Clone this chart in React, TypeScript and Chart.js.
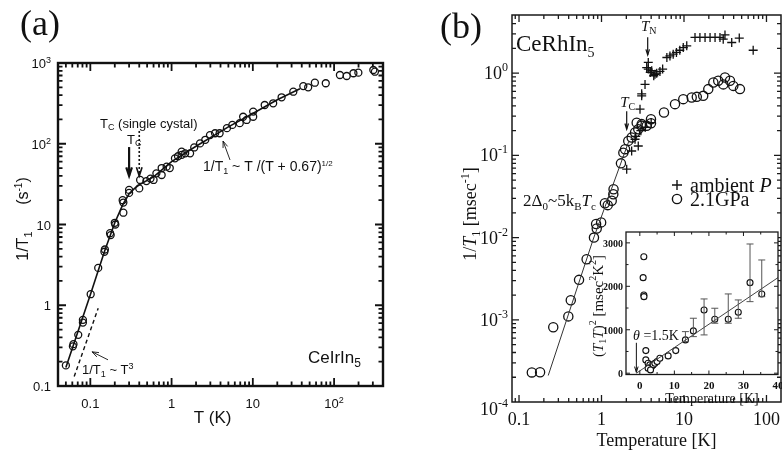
import React, { useEffect, useRef } from "react";
import { Chart, registerables } from "chart.js";

Chart.register(...registerables);

const SANS = '"Liberation Sans", Arial, sans-serif';
const SERIF = '"Liberation Serif", "Times New Roman", serif';
const INK = "#111";

// ---------- (a) CeIrIn5 : 1/T1 (s^-1) vs T (K) ----------
const irT = [0.050, 0.061, 0.062, 0.071, 0.081, 0.081, 0.101, 0.125, 0.149, 0.151, 0.175, 0.178, 0.200, 0.203, 0.255, 0.255, 0.25, 0.30, 0.30, 0.40, 0.41, 0.49, 0.55, 0.60, 0.65, 0.755, 0.755, 0.87, 0.95, 1.1, 1.2, 1.33, 1.47, 1.33, 1.69, 1.9, 2.24, 2.6, 2.97, 3.43, 3.9, 4.8, 5.6, 6.9, 7.6, 8.4, 10.1, 10.1, 14.0, 17.8, 22.6, 31.5, 41.8, 48, 58, 79, 118, 143, 173, 199, 304, 318];
const irRate = [0.18, 0.31, 0.33, 0.43, 0.61, 0.66, 1.37, 2.9, 4.6, 4.9, 7.8, 7.4, 10.5, 10.0, 14, 18.7, 20, 26.8, 24.6, 28, 35.6, 34.5, 37, 35.6, 43, 41, 50, 52, 50, 66, 70, 73, 76, 80, 76, 90, 101, 112, 128, 135, 135, 156, 171, 180, 216, 197, 216, 250, 302, 317, 376, 441, 518, 500, 570, 561, 710, 690, 747, 759, 819, 780];
const irFitT = [0.05, 0.1, 0.15, 0.2, 0.25, 0.3, 0.35, 0.4, 0.6, 1, 2, 5, 10, 20, 38];
const irFitRate = [0.17, 1.35, 4.7, 10.5, 17.5, 24, 28, 31, 39, 60, 93, 162, 237, 350, 480];
const irCubeT = [0.0633, 0.125];
const irCubeRate = [0.131, 0.92];
const irXTicks = [0.1, 1, 10, 100];
const irXLabels = ["0.1", "1", "10", "10^2"];
const irYTicks = [0.1, 1, 10, 100, 1000];
const irYLabels = ["0.1", "1", "10", "10^2", "10^3"];

// ---------- (b) CeRhIn5 : 1/T1 [msec^-1] vs Temperature [K] ----------
const rhAmbT = [2.02, 2.32, 2.55, 2.79, 2.93, 3.07, 3.07, 3.37, 3.53, 3.69, 3.69, 3.9, 4.06, 4.3, 4.45, 4.67, 5.11, 5.51, 6.2, 6.76, 7.4, 8.1, 8.9, 9.8, 10.8, 13.6, 15.6, 18, 20.7, 23.8, 27.3, 29.9, 31.4, 37.9, 46.8, 69, 2.6, 3.0, 3.4, 4.0];
const rhAmbRate = [0.068, 0.113, 0.157, 0.13, 0.365, 0.53, 0.56, 0.73, 1.17, 1.35, 1.12, 1.02, 1.07, 0.93, 0.97, 1.0, 1.05, 1.12, 1.55, 1.62, 1.70, 1.79, 1.9, 2.05, 2.15, 2.72, 2.72, 2.72, 2.72, 2.72, 2.72, 2.59, 2.92, 2.36, 2.67, 1.9, 0.17, 0.2, 0.22, 0.25];
const rhHiT = [0.143, 0.18, 0.26, 0.396, 0.424, 0.534, 0.66, 0.81, 0.86, 0.875, 0.99, 1.10, 1.19, 1.33, 1.39, 1.40, 1.72, 1.84, 1.93, 2.11, 2.32, 2.55, 2.79, 3.07, 2.67, 3.07, 3.53, 3.98, 3.98, 5.72, 7.78, 9.8, 12.4, 14.3, 17.1, 19.7, 22.7, 26, 31.4, 30, 36.1, 39.6, 47.7];
const rhHiRate = [2.29e-4, 2.3e-4, 8.1e-4, 1.1e-3, 1.73e-3, 3.06e-3, 5.46e-3, 0.0100, 0.0146, 0.0129, 0.0153, 0.0262, 0.0248, 0.028, 0.0337, 0.0388, 0.080, 0.108, 0.119, 0.15, 0.165, 0.19, 0.208, 0.229, 0.25, 0.24, 0.229, 0.275, 0.246, 0.333, 0.42, 0.483, 0.506, 0.515, 0.53, 0.64, 0.77, 0.81, 0.887, 0.73, 0.81, 0.70, 0.64];
const rhFitT = [0.226, 0.795, 2.15];
const rhFitRate = [2.1e-4, 9.6e-3, 0.15];
const rhXTicks = [0.1, 1, 10, 100];
const rhXLabels = ["0.1", "1", "10", "100"];
const rhYTicks = [1e-4, 1e-3, 1e-2, 1e-1, 1];
const rhYLabels = ["10^-4", "10^-3", "10^-2", "10^-1", "10^0"];

// ---------- inset : (T1T)^2 [msec^2 K^2] vs Temperature [K] ----------
const insT = [1.16, 0.96, 1.16, 1.2, 1.74, 1.74, 2.4, 2.9, 3.4, 3.86, 4.35, 2.4, 3.1, 5.0, 5.8, 8.2, 10.4, 13.2, 15.5, 18.6, 21.7, 25.6, 28.5, 31.9, 35.3];
const insVal = [2682, 2199, 1801, 1762, 520, 306, 230, 191, 152, 191, 230, 115, 76, 267, 345, 398, 520, 766, 973, 1456, 1242, 1242, 1403, 2084, 1824];
const insErrT = [13.2, 15.5, 18.6, 21.7, 25.6, 28.5, 31.9, 35.3];
const insErrLo = [727, 842, 881, 1150, 1150, 1265, 1647, 1762];
const insErrHi = [957, 1265, 1709, 1495, 1824, 1686, 2974, 2606];
const insFitT = [-1, 40];
const insFitVal = [0, 2200];
const insXTicks = [0, 10, 20, 30, 40];
const insYTicks = [0, 1000, 2000, 3000];

type Run = { t: string; size: number; dy?: number; italic?: boolean; bold?: boolean };

const pts = (xs: number[], ys: number[]) => xs.map((x, i) => ({ x, y: ys[i] }));

function runFont(r: Run, fam: string) {
  return `${r.italic ? "italic " : ""}${r.bold ? "bold " : ""}${r.size}px ${fam}`;
}

function richWidth(ctx: CanvasRenderingContext2D, runs: Run[], fam: string) {
  let w = 0;
  for (const r of runs) {
    ctx.font = runFont(r, fam);
    w += ctx.measureText(r.t).width;
  }
  return w;
}

function drawRich(ctx: CanvasRenderingContext2D, runs: Run[], x: number, y: number, fam: string, align: "left" | "center" | "right" = "left", color = INK) {
  const w = richWidth(ctx, runs, fam);
  let cx = align === "left" ? x : align === "center" ? x - w / 2 : x - w;
  ctx.save();
  ctx.fillStyle = color;
  ctx.textAlign = "left";
  ctx.textBaseline = "alphabetic";
  for (const r of runs) {
    ctx.font = runFont(r, fam);
    ctx.fillText(r.t, cx, y + (r.dy ?? 0));
    cx += ctx.measureText(r.t).width;
  }
  ctx.restore();
}

function drawRichUp(ctx: CanvasRenderingContext2D, runs: Run[], x: number, y: number, fam: string, color = INK) {
  ctx.save();
  ctx.translate(x, y);
  ctx.rotate(-Math.PI / 2);
  drawRich(ctx, runs, 0, 0, fam, "center", color);
  ctx.restore();
}

function expRuns(label: string, size: number, sup: number, rise: number, bold = false): Run[] {
  const [base, e] = label.split("^");
  const runs: Run[] = [{ t: base, size, bold }];
  if (e) runs.push({ t: e, size: sup, dy: -rise, bold });
  return runs;
}

function arrow(ctx: CanvasRenderingContext2D, x1: number, y1: number, x2: number, y2: number, lw: number, head: number, spread: number, dash: number[] = [], color = INK) {
  ctx.save();
  ctx.strokeStyle = color;
  ctx.lineWidth = lw;
  ctx.lineCap = "butt";
  ctx.setLineDash(dash);
  ctx.beginPath();
  ctx.moveTo(x1, y1);
  ctx.lineTo(x2, y2);
  ctx.stroke();
  ctx.setLineDash([]);
  const a = Math.atan2(y2 - y1, x2 - x1);
  ctx.beginPath();
  ctx.moveTo(x2 - head * Math.cos(a - spread), y2 - head * Math.sin(a - spread));
  ctx.lineTo(x2, y2);
  ctx.lineTo(x2 - head * Math.cos(a + spread), y2 - head * Math.sin(a + spread));
  ctx.stroke();
  ctx.restore();
}

function logSteps(min: number, max: number) {
  const out: { v: number; major: boolean }[] = [];
  for (let e = Math.floor(Math.log10(min)); e <= Math.ceil(Math.log10(max)); e++) {
    for (let m = 1; m <= 9; m++) {
      const v = m * Math.pow(10, e);
      if (v >= min * 0.9999 && v <= max * 1.0001) out.push({ v, major: m === 1 });
    }
  }
  return out;
}

function linSteps(min: number, max: number, minor: number, major: number) {
  const out: { v: number; major: boolean }[] = [];
  const start = Math.ceil(min / minor) * minor;
  for (let v = start; v <= max + 1e-9; v += minor) {
    out.push({ v, major: Math.abs(v / major - Math.round(v / major)) < 1e-6 });
  }
  return out;
}

// frame with inward ticks on all four sides
function drawFrame(chart: Chart, xs: { v: number; major: boolean }[], ys: { v: number; major: boolean }[], frameW: number, tickW: number, majLen: number, minLen: number, color = INK) {
  const { ctx, chartArea: a } = chart;
  const sx = chart.scales.x;
  const sy = chart.scales.y;
  ctx.save();
  ctx.strokeStyle = color;
  ctx.lineWidth = tickW;
  ctx.beginPath();
  for (const t of xs) {
    const px = sx.getPixelForValue(t.v);
    if (px < a.left + 1 || px > a.right - 1) continue;
    const l = t.major ? majLen : minLen;
    ctx.moveTo(px, a.bottom);
    ctx.lineTo(px, a.bottom - l);
    ctx.moveTo(px, a.top);
    ctx.lineTo(px, a.top + l);
  }
  for (const t of ys) {
    const py = sy.getPixelForValue(t.v);
    if (py < a.top + 1 || py > a.bottom - 1) continue;
    const l = t.major ? majLen : minLen;
    ctx.moveTo(a.left, py);
    ctx.lineTo(a.left + l, py);
    ctx.moveTo(a.right, py);
    ctx.lineTo(a.right - l, py);
  }
  ctx.stroke();
  ctx.lineWidth = frameW;
  ctx.strokeRect(a.left, a.top, a.right - a.left, a.bottom - a.top);
  ctx.restore();
}

const irDecor = {
  id: "irDecor",
  afterDatasetsDraw(chart: Chart) {
    const { ctx, chartArea: a } = chart;
    const sx = chart.scales.x;
    const sy = chart.scales.y;
    const X = (v: number) => sx.getPixelForValue(v);
    const Y = (v: number) => sy.getPixelForValue(v);
    drawFrame(chart, logSteps(0.04, 400), logSteps(0.1, 1000), 2.4, 1.8, 8, 4.5);

    irXTicks.forEach((v, i) => drawRich(ctx, expRuns(irXLabels[i], 13, 9, 5), X(v), a.bottom + 22, SANS, "center"));
    irYTicks.forEach((v, i) => drawRich(ctx, expRuns(irYLabels[i], 13, 9, 5), a.left - 7, Y(v) + 5, SANS, "right"));

    drawRich(ctx, [{ t: "T (K)", size: 17 }], X(3.2), a.bottom + 37, SANS, "center");
    drawRichUp(ctx, [{ t: "1/T", size: 16 }, { t: "1", size: 11, dy: 4 }, { t: "      (s", size: 16 }, { t: "-1", size: 10, dy: -6 }, { t: ")", size: 16 }], 28, 219, SANS);

    drawRich(ctx, [{ t: "(a)", size: 36 }], 20, 35, SERIF, "left");

    // Tc markers
    drawRich(ctx, [{ t: "T", size: 13 }, { t: "C", size: 9, dy: 2 }, { t: " (single cystal)", size: 13 }], a.left + 42, a.top + 65, SANS);
    drawRich(ctx, [{ t: "T", size: 13 }, { t: "C", size: 9, dy: 2 }], a.left + 69, a.top + 81, SANS);
    arrow(ctx, X(0.30), Y(91), X(0.30), Y(40), 2.2, 9, 0.32);
    arrow(ctx, X(0.40), Y(144), X(0.40), Y(40), 1.6, 9, 0.32, [2, 2]);

    // fit annotations
    drawRich(ctx, [{ t: "1/T", size: 14 }, { t: "1", size: 9, dy: 3 }, { t: " ~ T /(T + 0.67)", size: 14 }, { t: "1/2", size: 8, dy: -5 }], a.left + 145, a.top + 108, SANS);
    arrow(ctx, X(5.24), Y(63), X(4.3), Y(108), 0.9, 7, 0.35);
    drawRich(ctx, [{ t: "1/T", size: 13 }, { t: "1", size: 9, dy: 3 }, { t: " ~ T", size: 13 }, { t: "3", size: 9, dy: -5 }], a.left + 24, a.top + 311, SANS);
    arrow(ctx, X(0.165), Y(0.211), X(0.105), Y(0.265), 0.9, 7, 0.35);

    drawRich(ctx, [{ t: "CeIrIn", size: 17 }, { t: "5", size: 12, dy: 4 }], a.left + 250, a.top + 300, SANS);
  },
};

const rhDecor = {
  id: "rhDecor",
  afterDatasetsDraw(chart: Chart) {
    const { ctx, chartArea: a } = chart;
    const sx = chart.scales.x;
    const sy = chart.scales.y;
    const X = (v: number) => sx.getPixelForValue(v);
    const Y = (v: number) => sy.getPixelForValue(v);
    drawFrame(chart, logSteps(0.08, 160), logSteps(1e-4, 5.1), 1.5, 1.3, 7, 4, "#1a1a1a");

    rhXTicks.forEach((v, i) => drawRich(ctx, expRuns(rhXLabels[i], 18, 12, 8), X(v), a.bottom + 23, SERIF, "center"));
    // the lowest label sits a little below its tick, clear of the x axis
    rhYTicks.forEach((v, i) => drawRich(ctx, expRuns(rhYLabels[i], 18, 12, 8), a.left - 4, Y(v) + 6 + (i === 0 ? 7 : 0), SERIF, "right"));

    drawRich(ctx, [{ t: "Temperature [K]", size: 18 }], X(1) + 55, a.bottom + 44, SERIF, "center");
    drawRichUp(ctx, [{ t: "1/", size: 18 }, { t: "T", size: 18, italic: true }, { t: "1", size: 12, dy: 4 }, { t: " [msec", size: 18 }, { t: "-1", size: 12, dy: -7 }, { t: "]", size: 18 }], 76, 214, SERIF);

    drawRich(ctx, [{ t: "(b)", size: 36 }], 40, 38, SERIF, "left");
    drawRich(ctx, [{ t: "CeRhIn", size: 23 }, { t: "5", size: 14, dy: 6 }], a.left + 4, a.top + 36, SERIF);

    // ordering / gap markers
    drawRich(ctx, [{ t: "T", size: 15, italic: true }, { t: "N", size: 10, dy: 3 }], X(3.63) + 1, a.top + 16, SERIF, "center");
    arrow(ctx, X(3.63), Y(2.74), X(3.63), Y(1.66), 1.2, 6, 0.3);
    drawRich(ctx, [{ t: "T", size: 15, italic: true }, { t: "C", size: 10, dy: 3 }], X(2.02) + 1, a.top + 92, SERIF, "center");
    arrow(ctx, X(2.02), Y(0.345), X(2.02), Y(0.208), 1.2, 6, 0.3);

    drawRich(ctx, [{ t: "2Δ", size: 17 }, { t: "0", size: 11, dy: 4 }, { t: "~5k", size: 17 }, { t: "B", size: 11, dy: 4 }, { t: "T", size: 17, italic: true }, { t: "c", size: 11, dy: 4 }], a.left + 11, a.top + 191, SERIF);

    // legend
    const lx = a.left + 165;
    ctx.save();
    ctx.strokeStyle = INK;
    ctx.lineWidth = 1.4;
    ctx.beginPath();
    ctx.moveTo(lx - 5, a.top + 170);
    ctx.lineTo(lx + 5, a.top + 170);
    ctx.moveTo(lx, a.top + 165);
    ctx.lineTo(lx, a.top + 175);
    ctx.stroke();
    ctx.beginPath();
    ctx.arc(lx, a.top + 184, 4.6, 0, Math.PI * 2);
    ctx.stroke();
    ctx.restore();
    drawRich(ctx, [{ t: "ambient ", size: 20 }, { t: "P", size: 20, italic: true }], lx + 13, a.top + 177, SERIF);
    drawRich(ctx, [{ t: "2.1GPa", size: 20 }], lx + 13, a.top + 191, SERIF);
  },
};

const insDecor = {
  id: "insDecor",
  beforeDraw(chart: Chart) {
    const { ctx, chartArea: a } = chart;
    ctx.save();
    ctx.fillStyle = "#fff";
    ctx.fillRect(a.left, a.top, a.right - a.left, a.bottom - a.top);
    ctx.restore();
  },
  afterDatasetsDraw(chart: Chart) {
    const { ctx, chartArea: a } = chart;
    const sx = chart.scales.x;
    const sy = chart.scales.y;
    const X = (v: number) => sx.getPixelForValue(v);
    const Y = (v: number) => sy.getPixelForValue(v);

    // error bars
    ctx.save();
    ctx.strokeStyle = "#555";
    ctx.lineWidth = 1;
    insErrT.forEach((t, i) => {
      const px = X(t);
      const lo = Y(insErrLo[i]);
      const hi = Y(insErrHi[i]);
      ctx.beginPath();
      ctx.moveTo(px, lo);
      ctx.lineTo(px, hi);
      ctx.moveTo(px - 3.5, lo);
      ctx.lineTo(px + 3.5, lo);
      ctx.moveTo(px - 3.5, hi);
      ctx.lineTo(px + 3.5, hi);
      ctx.stroke();
    });
    ctx.restore();

    drawFrame(chart, linSteps(-4, 40, 5, 10), linSteps(-30, 3250, 500, 1000), 1.3, 1, 4, 2.5, "#1a1a1a");

    insXTicks.forEach((v) => drawRich(ctx, [{ t: String(v), size: 11, bold: true }], X(v), a.bottom + 14, SERIF, "center"));
    insYTicks.forEach((v) => drawRich(ctx, [{ t: String(v), size: 10, bold: true }], a.left - 3, Y(v) + 4, SERIF, "right"));

    drawRich(ctx, [{ t: "Temperature [K]", size: 14 }], (a.left + a.right) / 2 + 10, a.bottom + 28, SERIF, "center");
    drawRichUp(ctx, [{ t: "(", size: 15 }, { t: "T", size: 15, italic: true }, { t: "1", size: 10, dy: 3 }, { t: "T", size: 15, italic: true }, { t: ")", size: 15 }, { t: "2", size: 10, dy: -7 }, { t: " [msec", size: 15 }, { t: "2", size: 10, dy: -7 }, { t: "K", size: 15 }, { t: "2", size: 10, dy: -7 }, { t: "]", size: 15 }], a.left - 23, a.top + 74, SERIF);

    drawRich(ctx, [{ t: "θ", size: 14, italic: true }, { t: " =1.5K", size: 14 }], a.left + 7, a.top + 108, SERIF);
    arrow(ctx, X(-1), Y(700), X(-1), Y(20), 1, 6, 0.3);
  },
};

function makeIr(canvas: HTMLCanvasElement) {
  return new Chart(canvas, {
    type: "scatter",
    data: {
      datasets: [
        { data: pts(irFitT, irFitRate), showLine: true, borderColor: INK, borderWidth: 1.6, pointRadius: 0, tension: 0 },
        { data: pts(irCubeT, irCubeRate), showLine: true, borderColor: INK, borderWidth: 1.4, borderDash: [4, 3], pointRadius: 0 },
        { data: pts(irT, irRate), pointStyle: "circle", pointRadius: 3.5, pointBorderWidth: 1.3, borderColor: INK, pointBorderColor: INK, backgroundColor: "rgba(255,255,255,0)", pointBackgroundColor: "rgba(255,255,255,0)" },
      ],
    } as any,
    options: {
      responsive: false,
      animation: false,
      events: [],
      layout: { padding: { left: 58, top: 63, right: 17, bottom: 68 }, autoPadding: false },
      scales: {
        x: { type: "logarithmic", min: 0.04, max: 400, display: false },
        y: { type: "logarithmic", min: 0.1, max: 1000, display: false },
      },
      plugins: { legend: { display: false }, tooltip: { enabled: false } },
    } as any,
    plugins: [irDecor as any],
  });
}

function makeRh(canvas: HTMLCanvasElement) {
  return new Chart(canvas, {
    type: "scatter",
    data: {
      datasets: [
        { data: pts(rhFitT, rhFitRate), showLine: true, borderColor: "#333", borderWidth: 1, pointRadius: 0, tension: 0 },
        { data: pts(rhAmbT, rhAmbRate), pointStyle: "cross", pointRadius: 4.5, pointBorderWidth: 1.3, borderColor: INK, pointBorderColor: INK },
        { data: pts(rhHiT, rhHiRate), pointStyle: "circle", pointRadius: 4.6, pointBorderWidth: 1.3, borderColor: INK, pointBorderColor: INK, backgroundColor: "rgba(255,255,255,0)", pointBackgroundColor: "rgba(255,255,255,0)" },
      ],
    } as any,
    options: {
      responsive: false,
      animation: false,
      events: [],
      layout: { padding: { left: 112, top: 15, right: 1, bottom: 52 }, autoPadding: false },
      scales: {
        x: { type: "logarithmic", min: 0.0822, max: 150, display: false },
        y: { type: "logarithmic", min: 1e-4, max: 5.1, display: false },
      },
      plugins: { legend: { display: false }, tooltip: { enabled: false } },
    } as any,
    plugins: [rhDecor as any],
  });
}

function makeInset(canvas: HTMLCanvasElement) {
  return new Chart(canvas, {
    type: "scatter",
    data: {
      datasets: [
        { data: pts(insFitT, insFitVal), showLine: true, borderColor: "#444", borderWidth: 1, pointRadius: 0, tension: 0 },
        { data: pts(insT, insVal), pointStyle: "circle", pointRadius: 3, pointBorderWidth: 1.1, borderColor: INK, pointBorderColor: INK, backgroundColor: "rgba(255,255,255,1)", pointBackgroundColor: "rgba(255,255,255,1)" },
      ],
    } as any,
    options: {
      responsive: false,
      animation: false,
      events: [],
      layout: { padding: { left: 46, top: 10, right: 4, bottom: 37.5 }, autoPadding: false },
      scales: {
        x: { type: "linear", min: -4, max: 40, display: false },
        y: { type: "linear", min: -30, max: 3250, display: false },
      },
      plugins: { legend: { display: false }, tooltip: { enabled: false } },
    } as any,
    plugins: [insDecor as any],
  });
}

export default function App() {
  const aRef = useRef<HTMLCanvasElement>(null);
  const bRef = useRef<HTMLCanvasElement>(null);
  const iRef = useRef<HTMLCanvasElement>(null);

  useEffect(() => {
    const charts = [makeIr(aRef.current!), makeRh(bRef.current!), makeInset(iRef.current!)];
    return () => charts.forEach((c) => c.destroy());
  }, []);

  return (
    <div style={{ position: "absolute", left: 0, top: 0, width: 782, height: 454, overflow: "hidden", background: "#fff" }}>
      <canvas ref={aRef} width={400} height={454} style={{ position: "absolute", left: 0, top: 0 }} />
      <canvas ref={bRef} width={382} height={454} style={{ position: "absolute", left: 400, top: 0 }} />
      <canvas ref={iRef} width={202} height={190} style={{ position: "absolute", left: 580, top: 222 }} />
    </div>
  );
}
